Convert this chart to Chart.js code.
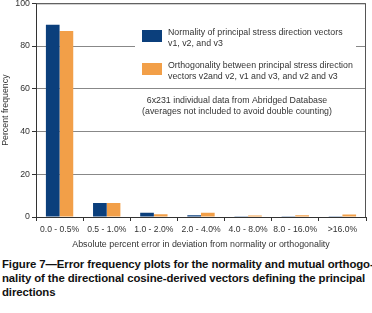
<!DOCTYPE html>
<html>
<head>
<meta charset="utf-8">
<script src="https://cdn.jsdelivr.net/npm/chart.js@4/dist/chart.umd.min.js"></script>
<style>
  html, body { margin: 0; padding: 0; background: #fff; }
  #wrap { position: relative; width: 372px; height: 313px; overflow: hidden; }
  #box { position: absolute; left: 0; top: -4px; width: 372px; height: 254px; }
  #caption {
    position: absolute; left: 2px; top: 257px; width: 372px; white-space: nowrap;
    font-family: "Liberation Sans", Arial, sans-serif; font-weight: bold;
    font-size: 11.4px; line-height: 14px; color: #111; letter-spacing: -0.1px;
  }
</style>
</head>
<body>
<div id="wrap">
  <div id="box"><canvas id="chart" width="372" height="254"></canvas></div>
  <div id="caption">Figure 7—Error frequency plots for the normality and mutual orthogo-<br>nality of the directional cosine-derived vectors defining the principal<br>directions</div>
</div>
<script>
const categories = ['0.0 - 0.5%', '0.5 - 1.0%', '1.0 - 2.0%', '2.0 - 4.0%', '4.0 - 8.0%', '8.0 - 16.0%', '>16.0%']
const normality = [90, 6.5, 2.0, 0.8, 0.3, 0.1, 0.1]
const orthogonality = [87, 6.5, 1.3, 2.0, 0.7, 0.8, 1.2]
const legendLines = [
  ['Normality of principal stress direction vectors', 'v1, v2, and v3'],
  ['Orthogonality between principal stress direction', 'vectors v2and v2, v1 and v3, and v2 and v3']
]
const noteLines = ['6x231 individual data from Abridged Database', '(averages not included to avoid double counting)']
const yTicks = [0, 20, 40, 60, 80, 100]

const font = '"Liberation Sans", Arial, sans-serif'
const txt = '#333'

// white legend box + note drawn inside the plot area (canvas is shifted up 4px)
const insidePlugin = {
  id: 'inside',
  afterDatasetsDraw(chart) {
    const ctx = chart.ctx
    ctx.save()
    ctx.translate(0, 4)
    ctx.fillStyle = '#fff'
    ctx.fillRect(135, 20, 221, 63)
    ctx.font = '8.8px ' + font
    ctx.textBaseline = 'middle'
    chart.data.datasets.forEach((ds, i) => {
      const y = 30 + i * 33
      ctx.fillStyle = ds.backgroundColor
      ctx.fillRect(142, y, 20, 12)
      ctx.fillStyle = txt
      legendLines[i].forEach((t, j) => ctx.fillText(t, 168, y + 3 + j * 10.5))
    })
    ctx.textAlign = 'center'
    noteLines.forEach((t, j) => ctx.fillText(t, 237, 101 + j * 11))
    ctx.restore()
  }
}

new Chart(document.getElementById('chart'), {
  type: 'bar',
  data: {
    labels: categories,
    datasets: [
      { label: 'Normality', data: normality, backgroundColor: '#0b3f7c', categoryPercentage: 0.58, barPercentage: 1 },
      { label: 'Orthogonality', data: orthogonality, backgroundColor: '#f29f48', categoryPercentage: 0.58, barPercentage: 1 }
    ]
  },
  options: {
    responsive: false,
    animation: false,
    layout: { padding: { top: 0, right: 6, left: 0, bottom: 0 } },
    plugins: { legend: { display: false }, tooltip: { enabled: false } },
    scales: {
      x: {
        afterFit(s) { s.height = 33 },
        grid: { display: true, drawOnChartArea: false, offset: true, tickLength: 4, color: '#333' },
        border: { color: '#333' },
        ticks: { color: txt, font: { family: font, size: 8.6 }, padding: 3, maxRotation: 0, autoSkip: false },
        title: { display: true, text: 'Absolute percent error in deviation from normality or orthogonality', color: txt, font: { family: font, size: 8.9 }, padding: { top: 3, bottom: 0 } }
      },
      y: {
        min: 0, max: 100,
        afterFit(s) { s.width = 36 },
        afterBuildTicks(s) { s.ticks = yTicks.map(v => ({ value: v })) },
        grid: { color: '#888', tickLength: 4, tickColor: '#333' },
        border: { color: '#333' },
        ticks: { color: txt, font: { family: font, size: 8.8 }, padding: 2 },
        title: { display: true, text: 'Percent frequency', color: txt, font: { family: font, size: 8.8 }, padding: { top: 0, bottom: 1 } }
      }
    }
  },
  plugins: [insidePlugin, {
    id: 'frame',
    afterDraw(chart) {
      const a = chart.chartArea, ctx = chart.ctx
      ctx.save()
      ctx.strokeStyle = '#555'
      ctx.lineWidth = 1
      ctx.beginPath()
      ctx.moveTo(a.left, a.top + 0.5)
      ctx.lineTo(a.right - 0.5, a.top + 0.5)
      ctx.lineTo(a.right - 0.5, a.bottom)
      ctx.stroke()
      ctx.restore()
    }
  }]
})
</script>
</body>
</html>
